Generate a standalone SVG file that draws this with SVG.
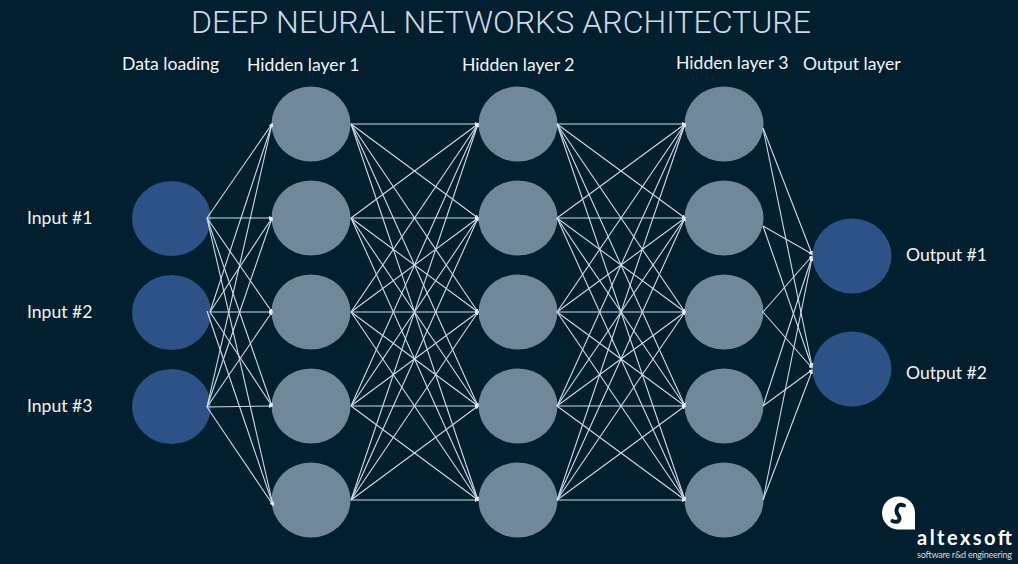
<svg xmlns="http://www.w3.org/2000/svg" width="1018" height="564" viewBox="0 0 1018 564">
<style>
.in{fill:#2c5288}.hid{fill:#708899}
.c line{stroke:#d3dbe6;stroke-width:1.1;marker-end:url(#a)}
text{font-family:"Lato","Liberation Sans",sans-serif;fill:#f4f6f8;font-size:17.600px}
.t{font-family:"Roboto","Liberation Sans",sans-serif;font-weight:300;font-size:32px;fill:#cfd9e6}
.lg{font-family:"Lato","Liberation Sans",sans-serif;fill:#fff}
</style>
<defs><marker id="a" markerUnits="userSpaceOnUse" markerWidth="5" markerHeight="5" refX="3" refY="2" orient="auto"><path d="M0 0L4 2L0 4Z" fill="#e6ebf2"/></marker></defs>
<rect width="1018" height="564" fill="#011f2e"/>
<text class="t" x="501" y="33" text-anchor="middle" textLength="620" lengthAdjust="spacingAndGlyphs">DEEP NEURAL NETWORKS ARCHITECTURE</text>
<text x="122" y="70">Data loading</text>
<text x="247" y="71">Hidden layer 1</text>
<text x="462" y="71">Hidden layer 2</text>
<text x="676" y="69">Hidden layer 3</text>
<text x="803" y="70">Output layer</text>
<g id="input1"><ellipse class="in" cx="171.5" cy="218.5" rx="39.5" ry="37.5"/><text x="27" y="224">Input #1</text></g>
<g id="input2"><ellipse class="in" cx="171.5" cy="312.5" rx="39.5" ry="37.5"/><text x="27" y="318">Input #2</text></g>
<g id="input3"><ellipse class="in" cx="171.5" cy="406.5" rx="39.5" ry="37.5"/><text x="27" y="412">Input #3</text></g>
<g id="h1-1"><ellipse class="hid" cx="311" cy="124" rx="39.5" ry="37.5"/></g>
<g id="h1-2"><ellipse class="hid" cx="311" cy="218" rx="39.5" ry="37.5"/></g>
<g id="h1-3"><ellipse class="hid" cx="311" cy="312" rx="39.5" ry="37.5"/></g>
<g id="h1-4"><ellipse class="hid" cx="311" cy="406" rx="39.5" ry="37.5"/></g>
<g id="h1-5"><ellipse class="hid" cx="311" cy="500" rx="39.5" ry="37.5"/></g>
<g id="h2-1"><ellipse class="hid" cx="518" cy="124" rx="39.5" ry="37.5"/></g>
<g id="h2-2"><ellipse class="hid" cx="518" cy="218" rx="39.5" ry="37.5"/></g>
<g id="h2-3"><ellipse class="hid" cx="518" cy="312" rx="39.5" ry="37.5"/></g>
<g id="h2-4"><ellipse class="hid" cx="518" cy="406" rx="39.5" ry="37.5"/></g>
<g id="h2-5"><ellipse class="hid" cx="518" cy="500" rx="39.5" ry="37.5"/></g>
<g id="h3-1"><ellipse class="hid" cx="724" cy="124" rx="39.5" ry="37.5"/></g>
<g id="h3-2"><ellipse class="hid" cx="724" cy="218" rx="39.5" ry="37.5"/></g>
<g id="h3-3"><ellipse class="hid" cx="724" cy="312" rx="39.5" ry="37.5"/></g>
<g id="h3-4"><ellipse class="hid" cx="724" cy="406" rx="39.5" ry="37.5"/></g>
<g id="h3-5"><ellipse class="hid" cx="724" cy="500" rx="39.5" ry="37.5"/></g>
<g id="output1"><ellipse class="in" cx="852" cy="256" rx="39.5" ry="37.5"/><text x="906" y="261">Output #1</text></g>
<g id="output2"><ellipse class="in" cx="852" cy="369" rx="39.5" ry="37.5"/><text x="906" y="379">Output #2</text></g>
<g class="c" id="connectors">
<line x1="207" y1="218" x2="272" y2="124"/><line x1="207" y1="218" x2="272" y2="218"/><line x1="207" y1="218" x2="272" y2="312"/><line x1="207" y1="218" x2="272" y2="406"/><line x1="207" y1="218" x2="273" y2="505"/>
<line x1="210" y1="312" x2="272" y2="124"/><line x1="210" y1="312" x2="272" y2="218"/><line x1="210" y1="312" x2="272" y2="312"/><line x1="210" y1="312" x2="272" y2="406"/><line x1="207" y1="311" x2="273" y2="505"/>
<line x1="207" y1="407" x2="272" y2="124"/><line x1="207" y1="407" x2="272" y2="218"/><line x1="207" y1="407" x2="272" y2="312"/><line x1="207" y1="407" x2="272" y2="406"/><line x1="207" y1="407" x2="273" y2="505"/>
<line x1="351" y1="124" x2="478" y2="124"/><line x1="351" y1="124" x2="478" y2="218"/><line x1="351" y1="124" x2="478" y2="312"/><line x1="351" y1="124" x2="478" y2="406"/><line x1="351" y1="124" x2="478" y2="500"/>
<line x1="351" y1="218" x2="478" y2="124"/><line x1="351" y1="218" x2="478" y2="218"/><line x1="351" y1="218" x2="478" y2="312"/><line x1="351" y1="218" x2="478" y2="406"/><line x1="351" y1="218" x2="478" y2="500"/>
<line x1="351" y1="312" x2="478" y2="124"/><line x1="351" y1="312" x2="478" y2="218"/><line x1="351" y1="312" x2="478" y2="312"/><line x1="351" y1="312" x2="478" y2="406"/><line x1="351" y1="312" x2="478" y2="500"/>
<line x1="351" y1="406" x2="478" y2="124"/><line x1="351" y1="406" x2="478" y2="218"/><line x1="351" y1="406" x2="478" y2="312"/><line x1="351" y1="406" x2="478" y2="406"/><line x1="351" y1="406" x2="478" y2="500"/>
<line x1="351" y1="500" x2="478" y2="124"/><line x1="351" y1="500" x2="478" y2="218"/><line x1="351" y1="500" x2="478" y2="312"/><line x1="351" y1="500" x2="478" y2="406"/><line x1="351" y1="500" x2="478" y2="500"/>
<line x1="557" y1="124" x2="685" y2="124"/><line x1="557" y1="124" x2="685" y2="218"/><line x1="557" y1="124" x2="685" y2="312"/><line x1="557" y1="124" x2="685" y2="406"/><line x1="557" y1="124" x2="685" y2="500"/>
<line x1="557" y1="218" x2="685" y2="124"/><line x1="557" y1="218" x2="685" y2="218"/><line x1="557" y1="218" x2="685" y2="312"/><line x1="557" y1="218" x2="685" y2="406"/><line x1="557" y1="218" x2="685" y2="500"/>
<line x1="557" y1="312" x2="685" y2="124"/><line x1="557" y1="312" x2="685" y2="218"/><line x1="557" y1="312" x2="685" y2="312"/><line x1="557" y1="312" x2="685" y2="406"/><line x1="557" y1="312" x2="685" y2="500"/>
<line x1="557" y1="406" x2="685" y2="124"/><line x1="557" y1="406" x2="685" y2="218"/><line x1="557" y1="406" x2="685" y2="312"/><line x1="557" y1="406" x2="685" y2="406"/><line x1="557" y1="406" x2="685" y2="500"/>
<line x1="557" y1="500" x2="685" y2="124"/><line x1="557" y1="500" x2="685" y2="218"/><line x1="557" y1="500" x2="685" y2="312"/><line x1="557" y1="500" x2="685" y2="406"/><line x1="557" y1="500" x2="685" y2="500"/>
<line x1="763" y1="128" x2="812" y2="254"/><line x1="763" y1="128" x2="812" y2="366"/>
<line x1="763" y1="226" x2="812" y2="254"/><line x1="763" y1="226" x2="812" y2="367"/>
<line x1="763" y1="312" x2="812" y2="256"/><line x1="763" y1="312" x2="812" y2="368"/>
<line x1="763" y1="406" x2="812" y2="257"/><line x1="763" y1="406" x2="812" y2="370"/>
<line x1="763" y1="500" x2="812" y2="258"/><line x1="763" y1="500" x2="812" y2="371"/>
</g>
<g id="logo">
<path d="M882 513A16.5 16.5 0 1 1 915 513V529.500H898.500A16.500 16.500 0 0 1 882 513Z" fill="#fff"/>
<path d="M904 505.500C899 503.500 897 506 896.500 510C896 515 900 515 899.500 519C899 522 896 522.500 892.500 521" fill="none" stroke="#011f2e" stroke-width="4" stroke-linecap="round"/>
<text class="lg" x="917" y="545" style="font-size:20px;font-weight:700" textLength="95" lengthAdjust="spacing">altexsoft</text>
<text class="lg" x="917" y="558" style="font-size:9px;fill:#d5dbe0" textLength="95" lengthAdjust="spacing">software r&amp;d engineering</text>
</g>
</svg>
